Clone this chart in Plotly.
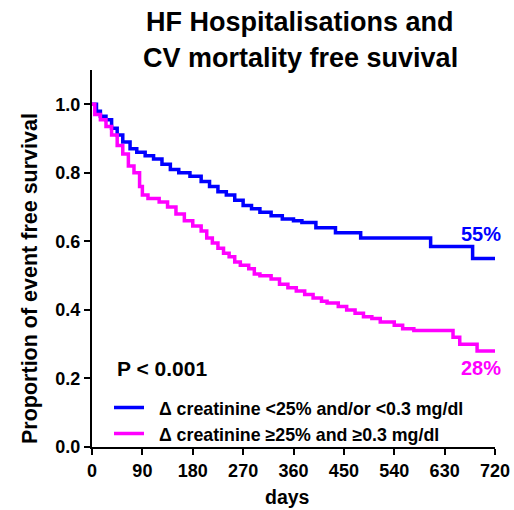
import plotly.graph_objects as go

# Kaplan-Meier step data (days, proportion event free)
blue_days = [0, 8, 15, 25, 35, 45, 55, 68, 80, 95, 110, 125, 140, 155, 175, 195, 210, 225,
             240, 255, 270, 285, 300, 320, 340, 360, 375, 400, 435, 480, 605, 680, 720]
blue_surv = [1.0, 0.98, 0.965, 0.955, 0.93, 0.91, 0.89, 0.87, 0.86, 0.85, 0.84, 0.825, 0.81, 0.80,
             0.79, 0.775, 0.76, 0.745, 0.735, 0.72, 0.705, 0.695, 0.685, 0.675, 0.665, 0.66, 0.655,
             0.64, 0.625, 0.61, 0.585, 0.55, 0.55]

mag_days = [0, 5, 15, 25, 35, 45, 55, 65, 75, 85, 90, 100, 120, 135, 150, 165, 180, 195, 205,
            215, 225, 235, 245, 255, 265, 280, 290, 300, 320, 335, 350, 365, 380, 395, 410, 420,
            440, 455, 470, 485, 500, 515, 540, 555, 575, 645, 657, 688, 720]
mag_surv = [1.0, 0.97, 0.955, 0.935, 0.91, 0.88, 0.855, 0.82, 0.80, 0.76, 0.735, 0.725, 0.715, 0.70,
            0.68, 0.66, 0.645, 0.63, 0.61, 0.595, 0.58, 0.565, 0.555, 0.54, 0.53, 0.52, 0.505, 0.50,
            0.49, 0.475, 0.465, 0.455, 0.445, 0.435, 0.425, 0.42, 0.41, 0.40, 0.39, 0.38, 0.375,
            0.365, 0.355, 0.345, 0.34, 0.32, 0.30, 0.28, 0.28]

x_ticks = [0, 90, 180, 270, 360, 450, 540, 630, 720]
y_ticks = [0.0, 0.2, 0.4, 0.6, 0.8, 1.0]
y_tick_labels = ["0.0", "0.2", "0.4", "0.6", "0.8", "1.0"]

names = ["\u00a0\u00a0\u0394 creatinine <25% and/or <0.3 mg/dl",
         "\u00a0\u00a0\u0394 creatinine \u226525% and \u22650.3 mg/dl"]
colors = ["#0000FF", "#FF00FF"]
end_labels = ["55%", "28%"]

FONT = "Liberation Sans, Arial, sans-serif"

# plot area in pixels: x 92..495, y 70..447
L, R, T, B = 92, 495, 70, 447
W, H = R - L, B - T


def px(xp):
    return (xp - L) / W


def py(yp):
    return (B - yp) / H


fig = go.Figure()
fig.add_trace(go.Scatter(x=blue_days, y=blue_surv, mode="lines", line_shape="hv",
                         line=dict(color=colors[0], width=3.5), name=names[0],
                         legend="legend"))
fig.add_trace(go.Scatter(x=mag_days, y=mag_surv, mode="lines", line_shape="hv",
                         line=dict(color=colors[1], width=3.5), name=names[1],
                         legend="legend2"))

leg_font = dict(size=17.8, family=FONT, color="black", weight="bold")
fig.update_layout(
    width=514, height=510,
    margin=dict(l=L, r=514 - R, t=T, b=510 - B, autoexpand=False),
    paper_bgcolor="white", plot_bgcolor="white",
    font=dict(family=FONT, color="black"),
    showlegend=True,
    legend=dict(x=px(109), y=py(408), xanchor="left", yanchor="middle",
                bgcolor="rgba(0,0,0,0)", itemwidth=30, font=leg_font),
    legend2=dict(x=px(109), y=py(434), xanchor="left", yanchor="middle",
                 bgcolor="rgba(0,0,0,0)", itemwidth=30, font=leg_font),
    xaxis=dict(range=[0, 720], tickvals=x_ticks, ticktext=[str(v) for v in x_ticks],
               showline=True, linecolor="black", linewidth=2, ticks="outside",
               ticklen=6, tickwidth=2, tickcolor="black", showgrid=False, zeroline=False,
               automargin=False,
               tickfont=dict(size=18, family=FONT, weight="bold")),
    yaxis=dict(range=[0, 1.1], tickvals=y_ticks, ticktext=y_tick_labels,
               showline=True, linecolor="black", linewidth=2, ticks="outside",
               ticklen=6, tickwidth=2, tickcolor="black", showgrid=False, zeroline=False,
               automargin=False,
               tickfont=dict(size=18, family=FONT, weight="bold")),
)


def note(text, xp, yp, size, color="black", angle=0, xanchor="center"):
    return dict(text=text, xref="paper", yref="paper", x=px(xp), y=py(yp),
                xanchor=xanchor, yanchor="middle", showarrow=False, textangle=angle,
                font=dict(size=size, family=FONT, weight="bold", color=color))


ann = [
    note("HF Hospitalisations and", 300, 22, 27),
    note("CV mortality free suvival", 300, 58, 27),
    note("Proportion of event free survival", 30, 279, 21.5, angle=-90),
    note("days", 287, 497, 19.5),
    note("P < 0.001", 115, 368, 21, xanchor="left"),
    note(end_labels[0], 481, 234, 20, color=colors[0]),
    note(end_labels[1], 481, 368, 20, color=colors[1]),
]
fig.update_layout(annotations=ann)

fig.write_html("out.html", config={"displayModeBar": False},
               post_script="document.body.style.margin='0';")
